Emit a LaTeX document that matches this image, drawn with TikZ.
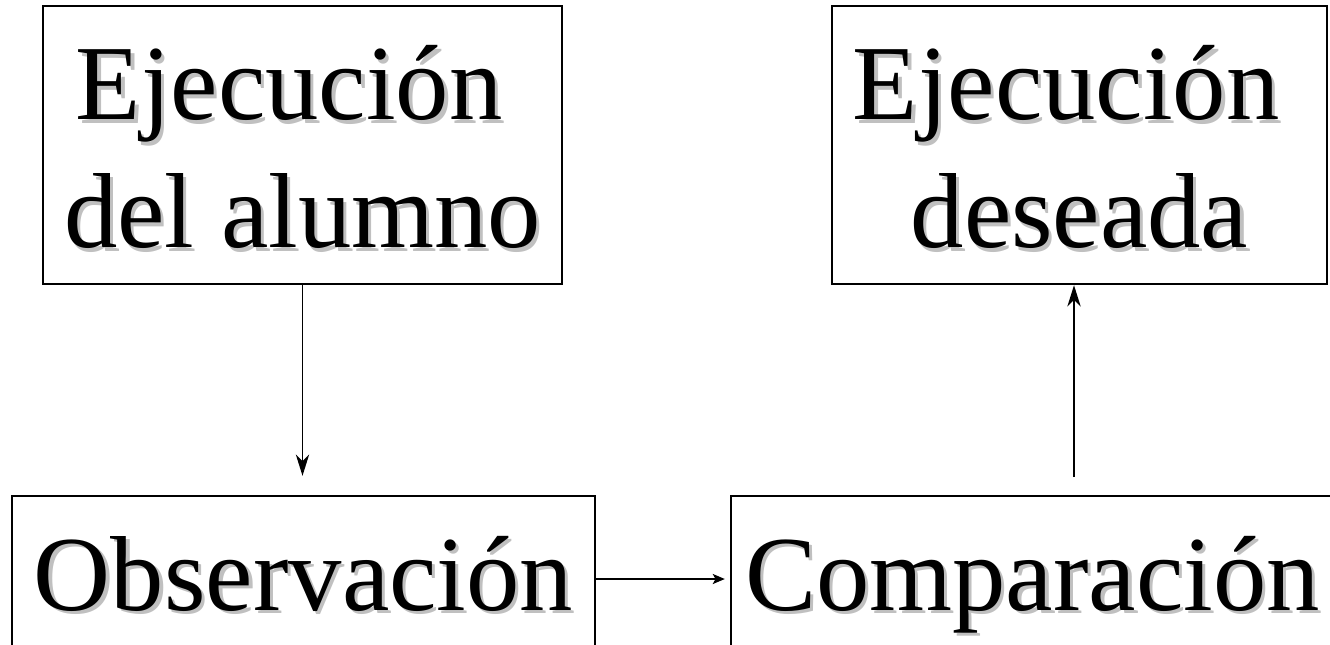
\documentclass[tikz,border=0pt]{standalone}
\usepackage{fontspec}
\setmainfont{Liberation Serif}
\newfontfamily\boxfont{Liberation Serif}
\usetikzlibrary{arrows.meta}

\definecolor{shadowgray}{RGB}{192,192,192}
\newcommand{\shtext}[1]{\makebox[0pt][l]{\hspace{2.4pt}\raisebox{-2.4pt}{\textcolor{shadowgray}{#1}}}#1}
\newcommand{\topstrut}{\rule{0pt}{61.5pt}}

\tikzset{every picture/.style={line width=1.3pt}}
\tikzset{
  stepbox/.style={draw, line width=1.8pt, inner sep=0pt, align=center,
    font=\boxfont\fontsize{80}{96}\selectfont},
  onebox/.style={stepbox, text height=54pt, text depth=0pt},
  flow/.style={-{Stealth[length=16pt,width=10pt,inset=5pt]}, line width=1.4pt},
  sideflow/.style={-{Stealth[length=9pt,width=7.5pt,inset=2pt]}, line width=1.4pt}
}

\begin{document}
\begin{tikzpicture}[x=0.75pt,y=0.75pt,yscale=-1,xscale=1]
\useasboundingbox (0,0) rectangle (1330,645);
\clip (0,0) rectangle (1330,645);

% Boxes
\node [stepbox, minimum width=389.25pt, minimum height=208.5pt] (alumno) at (302.5,145) {\topstrut\shtext{Ejecución}\hspace*{0.25em}\\\shtext{del alumno}};
\node [stepbox, minimum width=371.25pt, minimum height=208.5pt] (deseada) at (1079.5,145) {\topstrut\shtext{Ejecución}\hspace*{0.25em}\\\shtext{deseada}};
\node [onebox, minimum width=437.25pt, minimum height=117pt] (observ) at (303.5,574) {\shtext{Observación}};
\node [onebox, minimum width=452.25pt, minimum height=117pt] (compar) at (1032.5,574) {\shtext{Comparación}};

% Arrows
\coordinate (cmpout) at (1074,477);
\draw [flow, shorten >=14.25pt] (alumno.south) -- (alumno.south |- observ.north);
\draw [sideflow, shorten >=3.75pt] ([yshift=3.75pt]observ.east) -- ([yshift=3.75pt]compar.west);
\draw [flow] (cmpout) -- (cmpout |- deseada.south);

\end{tikzpicture}
\end{document}
